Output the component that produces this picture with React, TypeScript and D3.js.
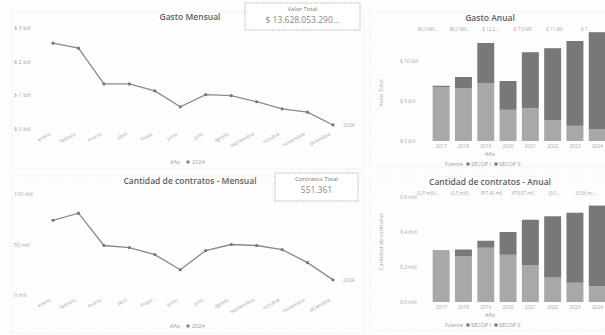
import React from 'react';
import * as d3 from 'd3';

const months = ['enero', 'febrero', 'marzo', 'abril', 'mayo', 'junio', 'julio', 'agosto', 'septiembre', 'octubre', 'noviembre', 'diciembre'];
const gastoMensual = [2.55, 2.4, 1.34, 1.34, 1.13, 0.66, 1.02, 0.99, 0.81, 0.6, 0.5, 0.12];
const contratosMensual = [74, 81, 49, 47, 40, 25, 44, 50, 49, 45, 32, 15];
const gastoMensualTicks = [0, 1, 2, 3];
const contratosMensualTicks = [0, 50, 100];

const years = ['2017', '2018', '2019', '2020', '2021', '2022', '2023', '2024'];
const gastoSecopI = [6.7, 6.6, 7.25, 3.9, 4.1, 2.6, 1.9, 1.5];
const gastoSecopII = [0.2, 1.4, 5.0, 3.6, 7.0, 9.0, 10.6, 12.1];
const contratosSecopI = [290, 260, 310, 270, 210, 140, 110, 90];
const contratosSecopII = [5, 40, 40, 130, 260, 350, 400, 461];
const gastoAnualTicks = [0, 5, 10];
const contratosAnualTicks = [0, 200, 400, 600];
const gastoAnualLabels = ['$6,9 Mil...', '$8,0 Mil...', '$ 12,2 ...', '$ 7,5 Mil', '$ 11 Mil', '$ 1...'];
const contratosAnualLabels = ['(0,3 mill)...', '(0,3 mill)', '357,40 mil', '478,87 mil', '(0,5...', '(0,56 mi...'];

const FONT = '"Open Sans", "DejaVu Sans", sans-serif';
const LINE = '#8a8a8a';
const TICK = '#a8a8a8';
const TITLE = '#5e5e5e';
const C1 = '#a8a8a8';
const C2 = '#787878';

function LinePanel(props: {
  title: string; values: number[]; ticks: number[]; fmt: (v: number) => string;
  yDomain: [number, number]; yRange: [number, number]; top: number;
  cardTitle: string; cardValue: string; card: [number, number, number, number];
}) {
  const { values, ticks, fmt, yDomain, yRange, top } = props;
  const x = d3.scalePoint<string>().domain(months).range([53, 333]);
  const y = d3.scaleLinear().domain(yDomain).range(yRange);
  const line = d3.line<number>().x((_, i) => x(months[i]) as number).y(d => y(d));
  const [cx, cy, cw, ch] = props.card;
  const last = values.length - 1;
  return (
    <g fontFamily={FONT}>
      <rect x={12} y={top} width={352} height={157} fill="none" stroke="#e4e4e4" strokeDasharray="1.5,1.5" strokeWidth={0.8} />
      <text x={190} y={top + 8} textAnchor="middle" fontSize={8.5} fontWeight={600} fill={TITLE}>{props.title}</text>
      <rect x={cx} y={cy} width={cw} height={ch} fill="white" stroke="#9a9a9a" strokeDasharray="1.2,1" strokeWidth={0.8} />
      <text x={cx + cw / 2} y={cy + 8} textAnchor="middle" fontSize={6} fill="#777">{props.cardTitle}</text>
      <text x={cx + cw / 2} y={cy + 20} textAnchor="middle" fontSize={8.5} fill="#888">{props.cardValue}</text>
      {ticks.map(t => (
        <text key={t} x={14} y={y(t) + 2} fontSize={5.5} fill={TICK}>{fmt(t)}</text>
      ))}
      <path d={line(values) || ''} fill="none" stroke={LINE} strokeWidth={1.3} />
      {values.map((v, i) => (
        <circle key={i} cx={x(months[i]) as number} cy={y(v)} r={1.6} fill="#777" />
      ))}
      <text x={(x(months[last]) as number) + 10} y={y(values[last]) + 2} fontSize={5} fill={TICK}>2024</text>
      {months.map(m => {
        const mx = (x(m) as number) - 2;
        const my = yRange[0] + 6;
        return (
          <text key={m} x={mx} y={my} fontSize={5} fill={TICK} textAnchor="end" transform={`rotate(-28 ${mx} ${my})`}>{m}</text>
        );
      })}
      <text x={175} y={top + 152} textAnchor="middle" fontSize={5.5} fill="#999">Año</text>
      <circle cx={188} cy={top + 150} r={1.8} fill="#888" />
      <text x={192} y={top + 152} fontSize={5.5} fill="#999">2024</text>
    </g>
  );
}

function BarPanel(props: {
  title: string; s1: number[]; s2: number[]; ticks: number[]; fmt: (v: number) => string;
  yDomain: [number, number]; yRange: [number, number]; top: number; yTitle: string;
  labels: string[];
}) {
  const { s1, s2, ticks, fmt, yDomain, yRange, top } = props;
  const x = d3.scaleBand<string>().domain(years).range([430, 608.4]).paddingInner(0.24).paddingOuter(0.12);
  const y = d3.scaleLinear().domain(yDomain).range(yRange);
  const stack = d3.stack<number>().keys(['a', 'b']).value((i, k) => (k === 'a' ? s1[i] : s2[i]));
  const series = stack(d3.range(years.length));
  const colors = [C1, C2];
  const lx = d3.scalePoint<string>().domain(props.labels).range([428, 586]);
  const base = yRange[0];
  return (
    <g fontFamily={FONT}>
      <rect x={370} y={top} width={240} height={155} fill="none" stroke="#e4e4e4" strokeDasharray="1.5,1.5" strokeWidth={0.8} />
      <text x={490} y={top + 9} textAnchor="middle" fontSize={8.5} fontWeight={600} fill={TITLE}>{props.title}</text>
      {props.labels.map(l => (
        <text key={l} x={lx(l) as number} y={top + 19} textAnchor="middle" fontSize={4.6} fill={TICK}>{l}</text>
      ))}
      {ticks.map(t => (
        <text key={t} x={400} y={y(t) + 2} fontSize={5} fill={TICK}>{fmt(t)}</text>
      ))}
      <text x={383} y={(yRange[0] + yRange[1]) / 2 - 8} textAnchor="middle" fontSize={5.5} fill={TICK}
        transform={`rotate(-90 383 ${(yRange[0] + yRange[1]) / 2 - 8})`}>{props.yTitle}</text>
      {series.map((s, si) => s.map((d, i) => (
        <rect key={`${si}-${i}`} x={x(years[i]) as number} y={y(d[1])} width={x.bandwidth()}
          height={Math.max(0, y(d[0]) - y(d[1]))} fill={colors[si]} />
      )))}
      {years.map(yr => (
        <text key={yr} x={(x(yr) as number) + x.bandwidth() / 2} y={base + 7} textAnchor="middle" fontSize={4.8} fill={TICK}>{yr}</text>
      ))}
      <text x={490} y={base + 15} textAnchor="middle" fontSize={5.5} fill="#999">Año</text>
      <text x={445} y={base + 25} fontSize={5.5} fill="#999">Fuente</text>
      <circle cx={468} cy={base + 23} r={1.8} fill={C2} />
      <text x={471} y={base + 25} fontSize={5.5} fill="#999">SECOP I</text>
      <circle cx={496} cy={base + 23} r={1.8} fill={C2} />
      <text x={499} y={base + 25} fontSize={5.5} fill="#999">SECOP II</text>
    </g>
  );
}

export default function App() {
  return (
    <svg width={605} height={335} style={{ position: 'absolute', left: 0, top: 0, background: '#fdfdfd' }}>
      <rect width={605} height={335} fill="#fdfdfd" />
      <LinePanel title="Gasto Mensual" values={gastoMensual} ticks={gastoMensualTicks}
        fmt={v => `$ ${v} bill`} yDomain={[0, 3]} yRange={[129, 28]} top={12}
        cardTitle="Valor Total" cardValue="$ 13.628.053.290..." card={[245, 3, 115, 27]} />
      <LinePanel title="Cantidad de contratos - Mensual" values={contratosMensual} ticks={contratosMensualTicks}
        fmt={v => `${v} mil`} yDomain={[0, 100]} yRange={[295, 194]} top={176}
        cardTitle="Contratos Total" cardValue="551.361" card={[275, 173, 83, 28]} />
      <BarPanel title="Gasto Anual" s1={gastoSecopI} s2={gastoSecopII} ticks={gastoAnualTicks}
        fmt={v => `$ ${v} bill`} yDomain={[0, 10]} yRange={[141, 61]} top={12} yTitle="Valor Total"
        labels={gastoAnualLabels} />
      <BarPanel title="Cantidad de contratos - Anual" s1={contratosSecopI} s2={contratosSecopII} ticks={contratosAnualTicks}
        fmt={v => `${(v / 1000).toFixed(1).replace('.', ',')} mill`} yDomain={[0, 600]} yRange={[302, 197]} top={176}
        yTitle="Cantidad de contratos" labels={contratosAnualLabels} />
    </svg>
  );
}
